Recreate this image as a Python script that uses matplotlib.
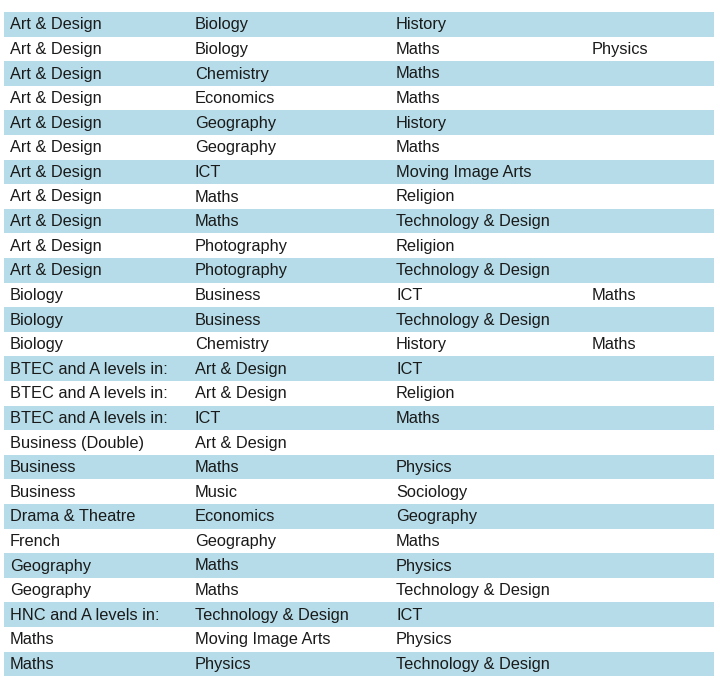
import matplotlib.pyplot as plt
from matplotlib.patches import Rectangle

col1 = ["Art & Design"] * 11 + ["Biology"] * 3 + ["BTEC and A levels in:"] * 3 + [
    "Business (Double)", "Business", "Business", "Drama & Theatre", "French",
    "Geography", "Geography", "HNC and A levels in:", "Maths", "Maths"]
col2 = ["Biology", "Biology", "Chemistry", "Economics", "Geography", "Geography", "ICT",
        "Maths", "Maths", "Photography", "Photography", "Business", "Business", "Chemistry",
        "Art & Design", "Art & Design", "ICT", "Art & Design", "Maths", "Music", "Economics",
        "Geography", "Maths", "Maths", "Technology & Design", "Moving Image Arts", "Physics"]
col3 = ["History", "Maths", "Maths", "Maths", "History", "Maths", "Moving Image Arts",
        "Religion", "Technology & Design", "Religion", "Technology & Design", "ICT",
        "Technology & Design", "History", "ICT", "Religion", "Maths", "", "Physics",
        "Sociology", "Geography", "Maths", "Physics", "Technology & Design", "ICT",
        "Physics", "Technology & Design"]
col4 = ["", "Physics"] + [""] * 9 + ["Maths", "", "Maths"] + [""] * 13

W, H = 720, 688
fig = plt.figure(figsize=(W / 100, H / 100), dpi=100)
ax = fig.add_axes([0, 0, 1, 1])
ax.set_xlim(0, W)
ax.set_ylim(H, 0)
ax.axis("off")

xs = [10, 195, 396, 592]
top, pitch = 12, 24.6
for i, row in enumerate(zip(col1, col2, col3, col4)):
    y0 = top + i * pitch
    if i % 2 == 0:
        ax.add_patch(Rectangle((4, y0), 710, pitch, color="#b5dce8", lw=0))
    for x, t in zip(xs, row):
        ax.text(x, y0 + pitch / 2 + 0.5, t, va="center", ha="left", fontsize=11.8,
                family="Liberation Sans", color="#1a1a1a")

fig.savefig("out.png", dpi=100)
